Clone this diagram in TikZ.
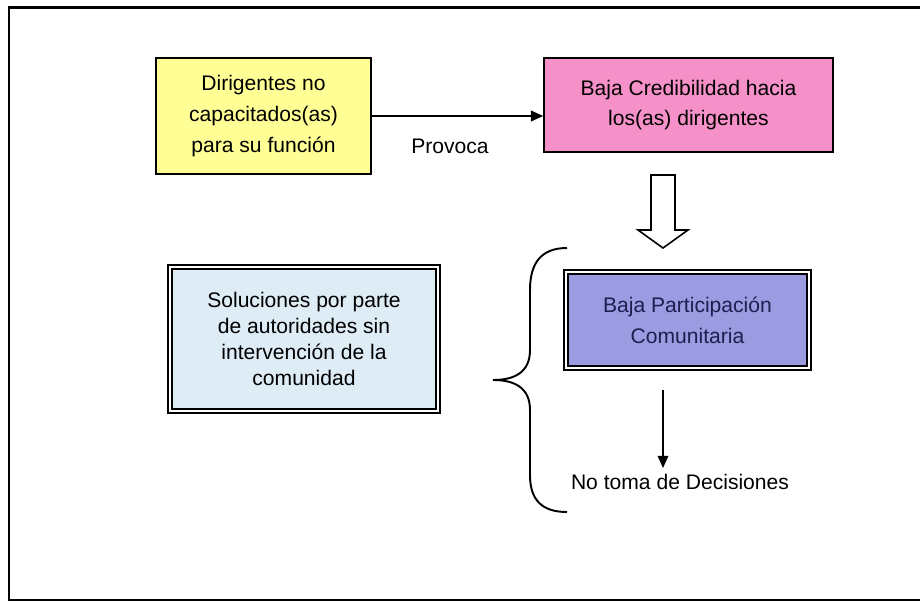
\documentclass[tikz,border=0pt]{standalone}
\usepackage{fontspec}
\setmainfont{Liberation Sans}
\usetikzlibrary{arrows.meta}

\definecolor{amarillo}{RGB}{255,255,150}
\definecolor{rosado}{RGB}{245,145,200}
\definecolor{celeste}{RGB}{222,236,246}
\definecolor{lila}{RGB}{155,155,225}
\definecolor{marino}{RGB}{30,30,80}

\begin{document}
\begin{tikzpicture}[x=0.02cm, y=-0.02cm]
\tikzset{caja/.style = {draw, line width=0.9pt, align=center, inner sep=0pt,
  font=\fontsize{12}{17.5}\selectfont}}
\tikzset{cajadoble/.style = {caja, double=white, line width=1pt, double distance=1.2pt}}
\tikzset{flecha/.style = {line width=1.1pt, -{Triangle[length=7pt, width=6pt]}}}
\useasboundingbox (0,0) rectangle (920,602);
% marco
\draw[line width=1.2pt] (925,7.5) -- (9,7.5) -- (9,600) -- (925,600);
% cajas
\node[caja, fill=amarillo, minimum width=4.3cm, minimum height=2.32cm](amarilla) at (263.5,116)
  {Dirigentes no\\capacitados(as)\\para su función};
\node[caja, fill=rosado, minimum width=5.78cm, minimum height=1.88cm](rosa) at (688.5,105)
  {Baja Credibilidad hacia\\los(as) dirigentes};
\node[cajadoble, fill=celeste, minimum width=5.36cm, minimum height=2.88cm,
  font=\fontsize{12}{14.7}\selectfont](soluciones) at (304,339)
  {Soluciones por parte\\de autoridades sin\\intervención de la\\comunidad};
\node[cajadoble, fill=lila, text=marino, minimum width=4.86cm, minimum height=1.92cm](participacion) at (687.5,320)
  {Baja Participación\\Comunitaria};
\node[font=\fontsize{12}{14}\selectfont](provoca) at (450,146) {Provoca};
\node[font=\fontsize{12}{14}\selectfont](notoma) at (680,482) {No toma de Decisiones};
% flechas
\draw[flecha] (amarilla.east) -- (amarilla.east -| rosa.west);
\coordinate (d0) at (663,390);
\draw[flecha] (d0) -- (d0 |- notoma.north);
\draw[line width=0.9pt, fill=white] (651,175) -- (675,175) -- (675,230) -- (688,230)
  -- (663,248) -- (638,230) -- (651,230) -- cycle;
% llave
\draw[line width=1.1pt] (567,248) .. controls (542,248) and (530,262) .. (530,290)
  -- (530,350) .. controls (530,372) and (515,380) .. (493,380)
  .. controls (515,380) and (530,388) .. (530,410)
  -- (530,475) .. controls (530,500) and (542,512) .. (567,512);
\end{tikzpicture}
\end{document}
